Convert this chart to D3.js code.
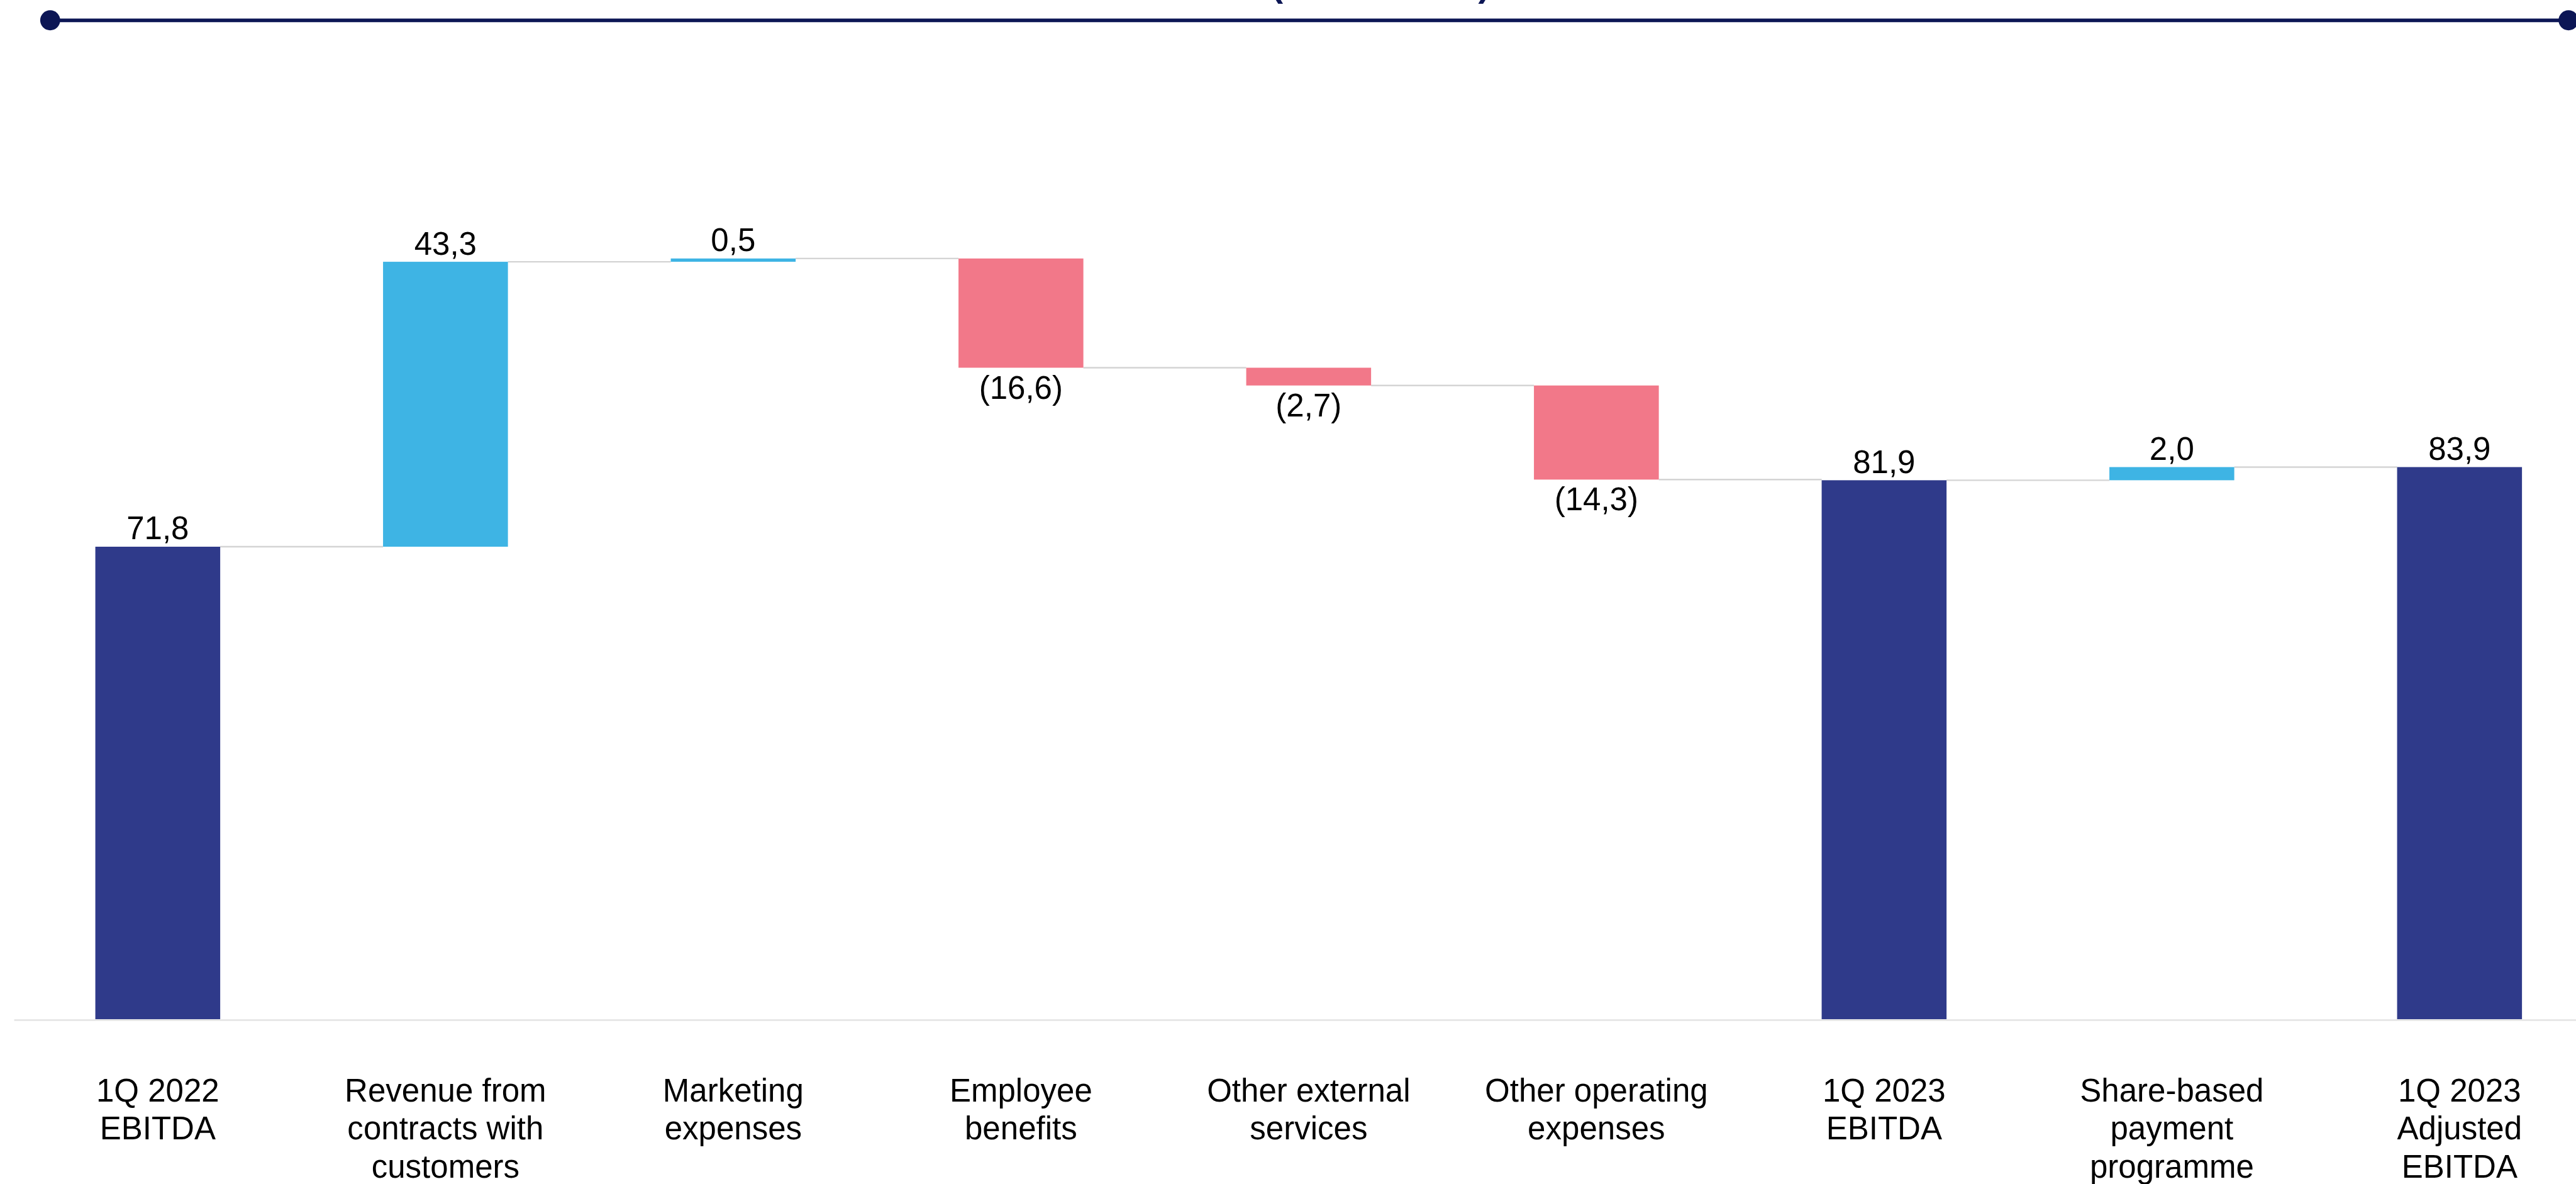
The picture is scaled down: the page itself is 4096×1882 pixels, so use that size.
<!DOCTYPE html>
<html>
<head>
<meta charset="utf-8">
<script src="https://cdn.jsdelivr.net/npm/d3@7"></script>
<style>
  html, body { margin: 0; padding: 0; background: #ffffff; overflow: hidden; }
  svg { display: block; }
  text { font-family: "Liberation Sans", Arial, Helvetica, sans-serif; }
</style>
</head>
<body>
<svg id="chart"></svg>
<script>
// EBITDA bridge, 1Q 2022 to 1Q 2023 adjusted EBITDA
const categories = [
  "1Q 2022\nEBITDA",
  "Revenue from\ncontracts with\ncustomers",
  "Marketing\nexpenses",
  "Employee\nbenefits",
  "Other external\nservices",
  "Other operating\nexpenses",
  "1Q 2023\nEBITDA",
  "Share-based\npayment\nprogramme",
  "1Q 2023\nAdjusted\nEBITDA"
];
const values = [71.8, 43.3, 0.5, -16.6, -2.7, -14.3, 81.9, 2.0, 83.9];
const kinds = ["total", "delta", "delta", "delta", "delta", "delta", "total", "delta", "total"];
const titleText = "(SEK million)";

// Layout works in a 4252 x 1954 design space, scaled into the window
const W = 4252, H = 1954;
const svg = d3.select("#chart")
  .attr("width", 4096)
  .attr("height", 1882)
  .attr("viewBox", `0 0 ${W} ${H}`)
  .attr("preserveAspectRatio", "xMidYMid meet");

const colors = { total: "#2F3A8A", up: "#3EB4E4", down: "#F27889" };
const navy = "#0C1655";

// Decimal comma, negatives in parentheses
const locale = d3.formatLocale({ decimal: ",", thousands: " ", grouping: [3], currency: ["", ""] });
const f1 = locale.format(".1f");
const fmt = v => v < 0 ? `(${f1(-v)})` : f1(v);

// Waterfall segments
let running = 0;
const bars = values.map((v, i) => {
  let start, end;
  if (kinds[i] === "total") { start = 0; end = v; running = v; }
  else { start = running; end = running + v; running = end; }
  return { cat: categories[i], value: v, kind: kinds[i], start, end, level: running };
});

const x = d3.scaleBand()
  .domain(categories)
  .range([22.6, 4297.6])
  .paddingInner(0.566)
  .paddingOuter(0.283);

const baseY = 1682;
const y = d3.scaleLinear().domain([0, 140]).range([baseY, baseY - 140 * 10.86]);

// Header rule with end dots
const header = svg.append("g");
header.append("text")
  .attr("x", 2279).attr("y", -6)
  .attr("text-anchor", "middle")
  .attr("font-size", 58).attr("font-weight", "bold")
  .attr("fill", navy)
  .text(titleText);
header.append("line")
  .attr("x1", 82.5).attr("x2", 4240)
  .attr("y1", 33.7).attr("y2", 33.7)
  .attr("stroke", navy).attr("stroke-width", 6);
header.selectAll("circle").data([82.5, 4240]).join("circle")
  .attr("cx", d => d).attr("cy", 33.5).attr("r", 16.5)
  .attr("fill", navy);

// Category axis
const axis = svg.append("g")
  .attr("transform", `translate(0,${baseY + 1})`)
  .call(d3.axisBottom(x).tickSize(0).tickFormat(""));
axis.select(".domain").attr("stroke", "#E3E3E3").attr("stroke-width", 2.5);
axis.selectAll(".tick text").remove();
axis.selectAll(".tick").each(function(d) {
  const t = d3.select(this).append("text")
    .attr("text-anchor", "middle")
    .attr("font-size", 53)
    .attr("fill", "#000");
  d.split("\n").forEach((line, k) => {
    t.append("tspan").attr("x", 0).attr("y", 134.5 + k * 63.3).text(line);
  });
});

// Connector lines between neighbouring bars
svg.append("g").selectAll("line")
  .data(bars.slice(0, -1))
  .join("line")
  .attr("x1", (d) => x(d.cat) + x.bandwidth())
  .attr("x2", (d, i) => x(bars[i + 1].cat))
  .attr("y1", d => y(d.level)).attr("y2", d => y(d.level))
  .attr("stroke", "#D4D4D4").attr("stroke-width", 2.5);

// Bars
svg.append("g").selectAll("rect")
  .data(bars)
  .join("rect")
  .attr("x", d => x(d.cat))
  .attr("width", x.bandwidth())
  .attr("y", d => y(Math.max(d.start, d.end)))
  .attr("height", d => Math.abs(y(d.start) - y(d.end)))
  .attr("fill", d => d.kind === "total" ? colors.total : (d.value >= 0 ? colors.up : colors.down));

// Value labels: above for totals and increases, below for decreases
svg.append("g").selectAll("text")
  .data(bars)
  .join("text")
  .attr("x", d => x(d.cat) + x.bandwidth() / 2)
  .attr("y", d => d.value >= 0 ? y(Math.max(d.start, d.end)) - 12 : y(Math.min(d.start, d.end)) + 51)
  .attr("text-anchor", "middle")
  .attr("font-size", 53)
  .attr("fill", "#000")
  .text(d => fmt(d.value));
</script>
</body>
</html>
